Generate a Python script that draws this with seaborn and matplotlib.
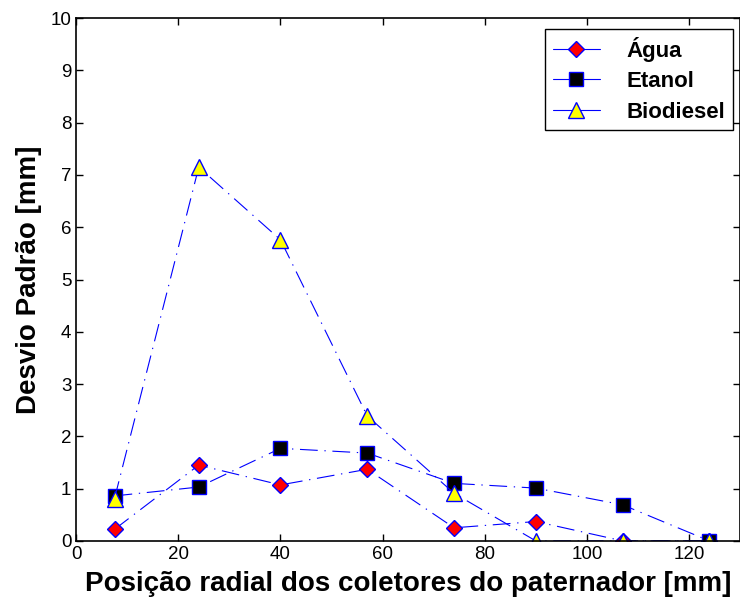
import pandas as pd
import matplotlib
matplotlib.use('Agg')
import matplotlib.pyplot as plt
import seaborn as sns

sns.set_theme(style="white")
plt.rcParams['font.family'] = ['Liberation Sans', 'DejaVu Sans']
plt.rcParams['xtick.direction'] = 'in'
plt.rcParams['ytick.direction'] = 'in'
plt.rcParams['text.color'] = 'black'
plt.rcParams['axes.labelcolor'] = 'black'
plt.rcParams['xtick.color'] = 'black'
plt.rcParams['ytick.color'] = 'black'

posicao = [7.5, 24, 40, 57, 74, 90, 107, 124]
agua = [0.22, 1.45, 1.07, 1.37, 0.25, 0.37, 0.0, 0.0]
etanol = [0.86, 1.03, 1.77, 1.68, 1.10, 1.01, 0.69, 0.0]
biodiesel = [0.81, 7.15, 5.76, 2.39, 0.91, 0.0, 0.0, 0.0]

series = [
    ('Água', agua, 'D', 'red', 8.5),
    ('Etanol', etanol, 's', 'black', 9.5),
    ('Biodiesel', biodiesel, '^', 'yellow', 11),
]

fig = plt.figure(figsize=(7.4, 6.05), dpi=100)
ax = fig.add_axes([0.103, 0.106, 0.897, 0.864])

for nome, vals, mk, cor, ms in series:
    df = pd.DataFrame({'x': posicao, 'y': vals})
    sns.lineplot(data=df, x='x', y='y', ax=ax, color='blue', linewidth=0.8,
                 linestyle=(0, (16, 6, 1.2, 6)), marker=mk, markersize=ms,
                 markerfacecolor=cor, markeredgecolor='blue', markeredgewidth=1,
                 label=nome, sort=False)

ax.set_xlim(0, 130)
ax.set_ylim(0, 10)
ax.set_xticks(range(0, 121, 20))
ax.set_yticks(range(0, 11))
ax.tick_params(axis='both', labelsize=13.5, length=5, width=1, color='black',
               labelcolor='black', top=True, right=True, bottom=True, left=True)
for s in ax.spines.values():
    s.set_color('black')
    s.set_linewidth(1.2)
ax.set_xlabel('Posição radial dos coletores do paternador [mm]', fontsize=20,
              fontweight='bold', color='black', labelpad=6)
ax.set_ylabel('Desvio Padrão [mm]', fontsize=20, fontweight='bold', color='black',
              labelpad=6)

leg = ax.legend(loc='upper right', prop={'weight': 'bold', 'size': 16},
                frameon=True, fancybox=False, edgecolor='black', framealpha=1,
                borderpad=0.35, handlelength=2.1, labelspacing=0.42,
                handletextpad=1.2, borderaxespad=0,
                bbox_to_anchor=(0.989, 0.979))
leg.get_frame().set_linewidth(1)
for h in leg.get_lines():
    h.set_linestyle('-')

fig.savefig('out.png', dpi=100)
